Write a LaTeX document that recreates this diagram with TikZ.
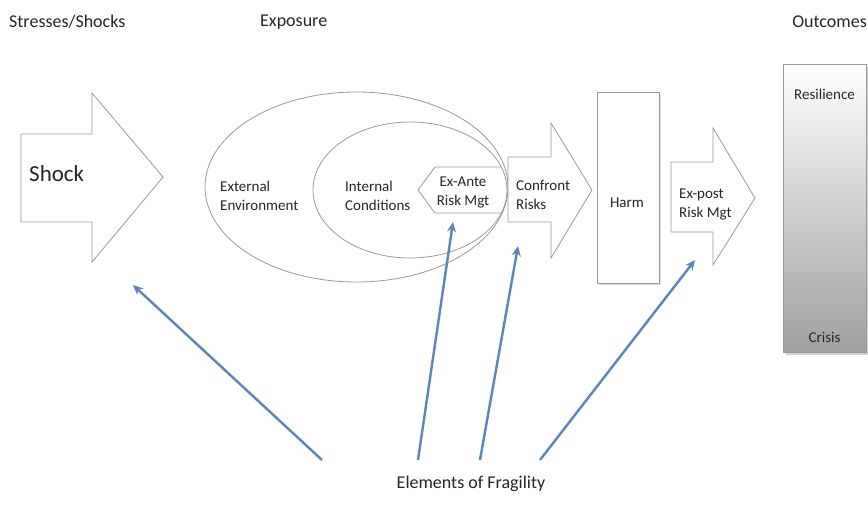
\documentclass[tikz,border=0pt]{standalone}
\usepackage{fontspec}
\setmainfont{Carlito}
\usetikzlibrary{arrows.meta,shadows}
\definecolor{edge}{HTML}{9A9A9A}
\definecolor{fragblue}{HTML}{5A85BF}
\definecolor{txt}{HTML}{262626}
\begin{document}
\begin{tikzpicture}[x=1pt,y=-1pt,
  shapebox/.style={draw=edge, line width=0.8pt, fill=white},
  softshadow/.style={drop shadow={opacity=0.25, shadow xshift=1.5pt, shadow yshift=-1.5pt}},
  heading/.style={font=\fontsize{18}{21}\selectfont, text=txt, inner sep=0pt},
  lbl/.style={font=\fontsize{15}{19}\selectfont, align=left, text=txt, inner sep=0pt},
  frag/.style={draw=fragblue, line width=2.4pt, -{Stealth[length=10pt,width=9pt]}}]
\useasboundingbox[fill=white] (0,0) rectangle (868,523);

% headings
\node[heading, anchor=west] (h1) at (9,22) {Stresses/Shocks};
\node[heading, anchor=west] (h2) at (260,22) {Exposure};
\node[heading, anchor=east] (h3) at (867,22) {Outcomes};

% shock arrow
\draw[shapebox] (21,134) -- (92,134) -- (92,93) -- (163,177) -- (92,262) -- (92,222) -- (21,222) -- cycle;
\node[font=\fontsize{23}{27}\selectfont, text=txt, anchor=west, inner sep=0pt] (shock) at (29,174) {Shock};

% ex-ante pentagon
\fill[white] (501,167) -- (435,167) -- (418,190) -- (435,213) -- (501,213) -- cycle;
\draw[draw=edge, line width=0.8pt] (501,167) -- (435,167) -- (418,190) -- (435,213) -- (501,213);

% ellipses
\draw[draw=edge, line width=0.8pt] (356.5,187) ellipse [x radius=151.5pt, y radius=95pt];
\draw[draw=edge, line width=0.8pt] (410,190) ellipse [x radius=97pt, y radius=68pt];

\node[lbl, anchor=west] (ext) at (220,196) {External\\Environment};
\node[lbl, anchor=west] (int) at (345,196) {Internal\\Conditions};
\node[lbl, align=center] (exante) at (463,192) {Ex-Ante\\Risk Mgt};

% confront arrow
\draw[shapebox] (508,157) -- (551,157) -- (551,123) -- (592,190) -- (551,258) -- (551,222) -- (508,222) -- cycle;
\node[lbl, anchor=west] (conf) at (516,195) {Confront\\Risks};

% harm
\draw[shapebox, softshadow] (597,92) rectangle (659,283);
\node[lbl] (harm) at (627,203) {Harm};

% ex-post arrow
\draw[shapebox] (671,162) -- (713,162) -- (713,128) -- (755,198) -- (713,265) -- (713,232) -- (671,232) -- cycle;
\node[lbl, anchor=west] (expost) at (679,204) {Ex-post\\Risk Mgt};

% outcomes bar
\fill[black, opacity=0.18] (785.5,66.5) rectangle (868,354.5);
\shade[top color=white, middle color=gray!18, bottom color={rgb,255:red,160;green,160;blue,160}, draw=edge, line width=0.8pt] (783,64) rectangle (866,352);
\node[lbl] (res) at (824.5,94) {Resilience};
\node[lbl] (crisis) at (824.5,337) {Crisis};

% fragility arrows
\node[heading] (frag) at (471,484) {Elements of Fragility};
\coordinate (f1) at (322,460);
\coordinate (t1) at (133,285);
\coordinate (f2) at (418,460);
\coordinate (t2) at (453,222);
\coordinate (f3) at (480,460);
\coordinate (t3) at (518,246);
\coordinate (f4) at (540,460);
\coordinate (t4) at (695,260);
\draw[frag] (f1) -- (t1);
\draw[frag] (f2) -- (t2);
\draw[frag] (f3) -- (t3);
\draw[frag] (f4) -- (t4);
\end{tikzpicture}
\end{document}
